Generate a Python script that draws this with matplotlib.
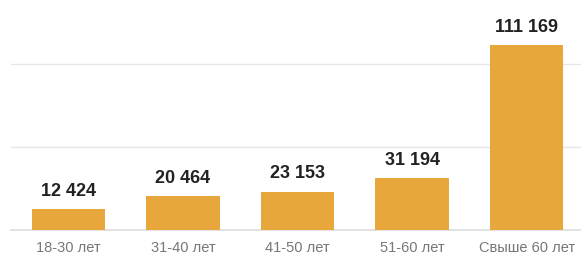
import matplotlib
matplotlib.use("Agg")
import matplotlib.pyplot as plt

categories = ["18-30 лет", "31-40 лет", "41-50 лет", "51-60 лет", "Свыше 60 лет"]
values = [12424, 20464, 23153, 31194, 111169]
labels = ["12 424", "20 464", "23 153", "31 194", "111 169"]
grid_values = [50000, 100000]

plt.rcParams['font.family'] = ['Liberation Sans', 'DejaVu Sans']

fig = plt.figure(figsize=(5.81, 2.55), dpi=100)
ax = fig.add_axes([11/581, 24/255, 570/581, 231/255])

x = list(range(len(categories)))
bars = ax.bar(x, values, width=0.64, color="#E8A73D", zorder=3)
ax.set_xlim(-0.5, -0.5 + 570/114.6)
ax.set_ylim(0, 139160)

for yv in grid_values:
    ax.axhline(yv, color="#e6e6e6", linewidth=1, zorder=1)

for xi, v, lab in zip(x, values, labels):
    ax.annotate(lab, (xi, v), xytext=(0, 7.5), textcoords="offset points",
                ha="center", va="bottom", fontsize=13, fontweight="bold", color="#222222")

ax.set_xticks(x)
ax.set_xticklabels(categories, fontsize=10.5, color="#777777")
ax.tick_params(axis="x", length=0, pad=7)
ax.set_yticks([])
for s in ["top", "right", "left"]:
    ax.spines[s].set_visible(False)
ax.spines["bottom"].set_color("#dddddd")
ax.spines["bottom"].set_linewidth(1.2)
ax.patch.set_alpha(0)

fig.savefig("out.png", dpi=100)
